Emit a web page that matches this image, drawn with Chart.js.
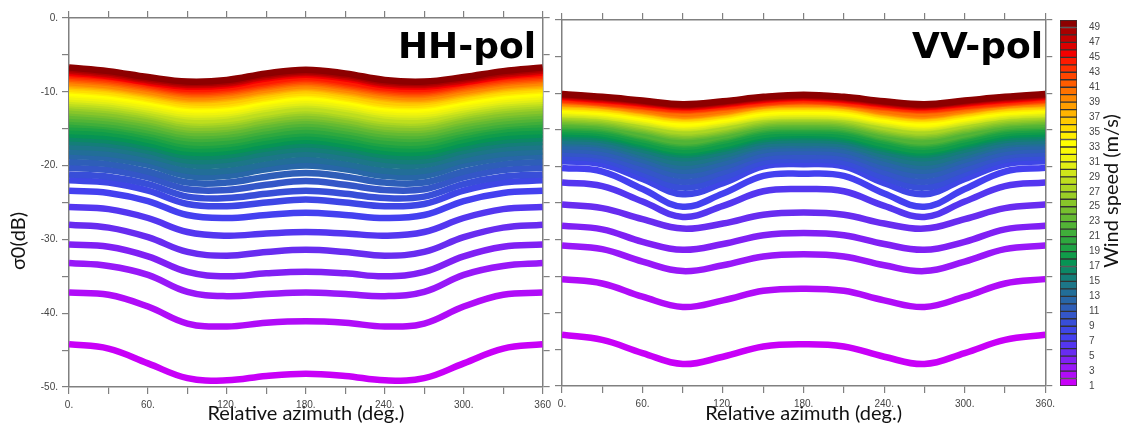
<!DOCTYPE html>
<html>
<head>
<meta charset="utf-8">
<script src="https://cdn.jsdelivr.net/npm/chart.js@4.4.0/dist/chart.umd.min.js"></script>
<style>
  html, body { margin: 0; padding: 0; background: #fff; }
  #wrap { position: relative; width: 1124px; height: 428px; overflow: hidden; background: #fff; }
  canvas { position: absolute; top: 0; }
</style>
</head>
<body>
<div id="wrap">
  <canvas id="hh" width="556" height="428" style="left:0px"></canvas>
  <canvas id="vv" width="510" height="428" style="left:550px"></canvas>
  <canvas id="cbar" width="72" height="428" style="left:1052px"></canvas>
</div>
<script>
// relative azimuth (deg.) where each curve was read
const AZIMUTH = [0, 30, 60, 90, 120, 150, 180, 210, 240, 270, 300, 330, 360];
const WIND_SPEED = [1, 2, 3, 4, 5, 6, 7, 8, 9, 10, 11, 12, 13, 14, 15, 16, 17, 18, 19, 20, 21, 22, 23, 24, 25,
                    26, 27, 28, 29, 30, 31, 32, 33, 34, 35, 36, 37, 38, 39, 40, 41, 42, 43, 44, 45, 46, 47, 48, 49];

// sigma0 (dB), one row per wind speed, HH polarisation
const HH_SIGMA0 = [
  [-44.2,-44.8,-46.8,-48.8,-49.1,-48.5,-48.2,-48.5,-49.1,-48.8,-46.8,-44.8,-44.2],
  [-37.2,-37.5,-39.1,-41.4,-41.8,-41.3,-41.1,-41.3,-41.8,-41.4,-39.1,-37.5,-37.2],
  [-33.2,-33.6,-34.8,-37.1,-37.7,-37.4,-37.2,-37.4,-37.7,-37.1,-34.8,-33.6,-33.2],
  [-30.7,-31.0,-32.3,-34.4,-35.0,-34.6,-34.4,-34.6,-35.0,-34.4,-32.3,-31.0,-30.7],
  [-28.0,-28.4,-29.7,-31.7,-32.2,-31.7,-31.4,-31.7,-32.2,-31.7,-29.7,-28.4,-28.0],
  [-25.6,-25.9,-27.1,-29.0,-29.5,-29.2,-29.0,-29.2,-29.5,-29.0,-27.1,-25.9,-25.6],
  [-23.4,-23.7,-24.8,-26.7,-27.1,-26.7,-26.4,-26.7,-27.1,-26.7,-24.8,-23.7,-23.4],
  [-22.0,-22.3,-23.4,-25.2,-25.5,-25.0,-24.6,-25.0,-25.5,-25.2,-23.4,-22.3,-22.0],
  [-21.2,-21.5,-22.5,-24.2,-24.4,-23.8,-23.4,-23.8,-24.4,-24.2,-22.5,-21.5,-21.2],
  [-20.3,-20.6,-21.6,-23.2,-23.3,-22.6,-22.1,-22.6,-23.3,-23.2,-21.6,-20.6,-20.3],
  [-19.5,-19.8,-20.8,-22.3,-22.3,-21.5,-21.0,-21.5,-22.3,-22.3,-20.8,-19.8,-19.5],
  [-18.7,-19.0,-19.9,-21.4,-21.4,-20.5,-20.0,-20.5,-21.4,-21.4,-19.9,-19.0,-18.7],
  [-18.1,-18.4,-19.3,-20.7,-20.7,-19.8,-19.2,-19.8,-20.7,-20.7,-19.3,-18.4,-18.1],
  [-17.4,-17.7,-18.6,-19.9,-19.9,-19.0,-18.4,-19.0,-19.9,-19.9,-18.6,-17.7,-17.4],
  [-16.8,-17.1,-18.0,-19.3,-19.2,-18.3,-17.7,-18.3,-19.2,-19.3,-18.0,-17.1,-16.8],
  [-16.3,-16.6,-17.5,-18.7,-18.6,-17.7,-17.1,-17.7,-18.6,-18.7,-17.5,-16.6,-16.3],
  [-15.8,-16.1,-17.0,-18.2,-18.1,-17.2,-16.6,-17.2,-18.1,-18.2,-17.0,-16.1,-15.8],
  [-15.3,-15.6,-16.5,-17.7,-17.6,-16.7,-16.1,-16.7,-17.6,-17.7,-16.5,-15.6,-15.3],
  [-14.8,-15.1,-16.0,-17.2,-17.1,-16.2,-15.6,-16.2,-17.1,-17.2,-16.0,-15.1,-14.8],
  [-14.4,-14.7,-15.6,-16.8,-16.7,-15.8,-15.2,-15.8,-16.7,-16.8,-15.6,-14.7,-14.4],
  [-14.0,-14.4,-15.2,-16.3,-16.2,-15.3,-14.7,-15.3,-16.2,-16.3,-15.2,-14.4,-14.0],
  [-13.6,-14.0,-14.8,-15.9,-15.8,-14.9,-14.3,-14.9,-15.8,-15.9,-14.8,-14.0,-13.6],
  [-13.2,-13.6,-14.4,-15.5,-15.4,-14.5,-13.9,-14.5,-15.4,-15.5,-14.4,-13.6,-13.2],
  [-12.8,-13.2,-14.0,-15.1,-15.0,-14.1,-13.5,-14.1,-15.0,-15.1,-14.0,-13.2,-12.8],
  [-12.5,-12.9,-13.7,-14.8,-14.7,-13.8,-13.2,-13.8,-14.7,-14.8,-13.7,-12.9,-12.5],
  [-12.1,-12.5,-13.3,-14.4,-14.3,-13.4,-12.8,-13.4,-14.3,-14.4,-13.3,-12.5,-12.1],
  [-11.8,-12.2,-13.0,-14.1,-14.0,-13.1,-12.5,-13.1,-14.0,-14.1,-13.0,-12.2,-11.8],
  [-11.5,-11.9,-12.7,-13.8,-13.7,-12.8,-12.2,-12.8,-13.7,-13.8,-12.7,-11.9,-11.5],
  [-11.2,-11.6,-12.4,-13.3,-13.2,-12.3,-11.7,-12.3,-13.2,-13.3,-12.4,-11.6,-11.2],
  [-10.9,-11.3,-12.1,-13.0,-12.9,-12.0,-11.4,-12.0,-12.9,-13.0,-12.1,-11.3,-10.9],
  [-10.6,-11.0,-11.8,-12.7,-12.6,-11.7,-11.1,-11.7,-12.6,-12.7,-11.8,-11.0,-10.6],
  [-10.3,-10.7,-11.5,-12.4,-12.3,-11.4,-10.8,-11.4,-12.3,-12.4,-11.5,-10.7,-10.3],
  [-10.1,-10.5,-11.3,-12.2,-12.1,-11.2,-10.6,-11.2,-12.1,-12.2,-11.3,-10.5,-10.1],
  [-9.8,-10.2,-11.0,-11.9,-11.8,-10.9,-10.3,-10.9,-11.8,-11.9,-11.0,-10.2,-9.8],
  [-9.6,-10.0,-10.8,-11.7,-11.6,-10.7,-10.1,-10.7,-11.6,-11.7,-10.8,-10.0,-9.6],
  [-9.3,-9.7,-10.5,-11.4,-11.3,-10.4,-9.8,-10.4,-11.3,-11.4,-10.5,-9.7,-9.3],
  [-9.1,-9.5,-10.3,-11.1,-10.9,-10.1,-9.5,-10.1,-10.9,-11.1,-10.3,-9.5,-9.1],
  [-8.9,-9.3,-10.1,-10.9,-10.7,-9.9,-9.3,-9.9,-10.7,-10.9,-10.1,-9.3,-8.9],
  [-8.7,-9.1,-9.9,-10.7,-10.5,-9.7,-9.1,-9.7,-10.5,-10.7,-9.9,-9.1,-8.7],
  [-8.4,-8.8,-9.6,-10.4,-10.2,-9.4,-8.8,-9.4,-10.2,-10.4,-9.6,-8.8,-8.4],
  [-8.2,-8.6,-9.4,-10.2,-10.0,-9.2,-8.6,-9.2,-10.0,-10.2,-9.4,-8.6,-8.2],
  [-8.0,-8.4,-9.2,-10.0,-9.8,-9.0,-8.4,-9.0,-9.8,-10.0,-9.2,-8.4,-8.0],
  [-7.8,-8.2,-9.0,-9.8,-9.6,-8.8,-8.2,-8.8,-9.6,-9.8,-9.0,-8.2,-7.8],
  [-7.6,-8.0,-8.8,-9.6,-9.4,-8.6,-8.0,-8.6,-9.4,-9.6,-8.8,-8.0,-7.6],
  [-7.4,-7.9,-8.7,-9.3,-9.1,-8.2,-7.7,-8.2,-9.1,-9.3,-8.7,-7.9,-7.4],
  [-7.2,-7.7,-8.5,-9.1,-8.9,-8.0,-7.5,-8.0,-8.9,-9.1,-8.5,-7.7,-7.2],
  [-7.1,-7.6,-8.4,-9.0,-8.8,-7.9,-7.4,-7.9,-8.8,-9.0,-8.4,-7.6,-7.1],
  [-6.9,-7.4,-8.2,-8.8,-8.6,-7.7,-7.2,-7.7,-8.6,-8.8,-8.2,-7.4,-6.9],
  [-6.7,-7.2,-8.0,-8.6,-8.4,-7.5,-7.0,-7.5,-8.4,-8.6,-8.0,-7.2,-6.7]
];

// sigma0 (dB), one row per wind speed, VV polarisation
const VV_SIGMA0 = [
  [-43.0,-43.7,-45.5,-47.0,-46.0,-44.6,-44.3,-44.6,-46.0,-47.0,-45.5,-43.7,-43.0],
  [-35.4,-36.0,-37.8,-39.2,-38.3,-37.0,-36.7,-37.0,-38.3,-39.2,-37.8,-36.0,-35.4],
  [-30.8,-31.3,-33.0,-34.3,-33.5,-32.3,-32.0,-32.3,-33.5,-34.3,-33.0,-31.3,-30.8],
  [-28.1,-28.6,-30.3,-31.4,-30.6,-29.4,-29.1,-29.4,-30.6,-31.4,-30.3,-28.6,-28.1],
  [-25.2,-25.7,-27.2,-28.5,-27.8,-26.6,-26.3,-26.6,-27.8,-28.5,-27.2,-25.7,-25.2],
  [-22.2,-22.7,-24.8,-26.9,-25.4,-23.4,-23.1,-23.4,-25.4,-26.9,-24.8,-22.7,-22.2],
  [-20.2,-20.7,-23.1,-25.5,-23.7,-21.3,-21.0,-21.3,-23.7,-25.5,-23.1,-20.7,-20.2],
  [-19.3,-19.7,-21.7,-23.8,-22.3,-20.0,-19.7,-20.0,-22.3,-23.8,-21.7,-19.7,-19.3],
  [-18.7,-19.1,-21.0,-22.9,-21.5,-19.4,-19.1,-19.4,-21.5,-22.9,-21.0,-19.1,-18.7],
  [-18.2,-18.6,-20.4,-22.1,-20.8,-18.8,-18.6,-18.8,-20.8,-22.1,-20.4,-18.6,-18.2],
  [-17.7,-18.1,-19.7,-21.3,-20.1,-18.3,-18.0,-18.3,-20.1,-21.3,-19.7,-18.1,-17.7],
  [-17.2,-17.6,-19.1,-20.6,-19.5,-17.8,-17.5,-17.8,-19.5,-20.6,-19.1,-17.6,-17.2],
  [-16.8,-17.1,-18.6,-20.0,-18.9,-17.3,-17.1,-17.3,-18.9,-20.0,-18.6,-17.1,-16.8],
  [-16.5,-16.8,-18.2,-19.5,-18.5,-17.0,-16.8,-17.0,-18.5,-19.5,-18.2,-16.8,-16.5],
  [-16.1,-16.4,-17.7,-18.9,-18.0,-16.6,-16.4,-16.6,-18.0,-18.9,-17.7,-16.4,-16.1],
  [-15.8,-16.1,-17.3,-18.4,-17.6,-16.3,-16.0,-16.3,-17.6,-18.4,-17.3,-16.1,-15.8],
  [-15.5,-15.8,-17.0,-18.1,-17.3,-16.0,-15.7,-16.0,-17.3,-18.1,-17.0,-15.8,-15.5],
  [-15.2,-15.5,-16.7,-17.8,-17.0,-15.7,-15.4,-15.7,-17.0,-17.8,-16.7,-15.5,-15.2],
  [-14.9,-15.2,-16.3,-17.3,-16.5,-15.3,-15.1,-15.3,-16.5,-17.3,-16.3,-15.2,-14.9],
  [-14.6,-14.9,-16.0,-17.0,-16.2,-15.0,-14.8,-15.0,-16.2,-17.0,-16.0,-14.9,-14.6],
  [-14.4,-14.7,-15.8,-16.8,-16.0,-14.8,-14.6,-14.8,-16.0,-16.8,-15.8,-14.7,-14.4],
  [-14.2,-14.5,-15.6,-16.6,-15.8,-14.6,-14.4,-14.6,-15.8,-16.6,-15.6,-14.5,-14.2],
  [-13.9,-14.2,-15.1,-16.0,-15.4,-14.3,-14.1,-14.3,-15.4,-16.0,-15.1,-14.2,-13.9],
  [-13.7,-14.0,-14.9,-15.8,-15.2,-14.1,-13.9,-14.1,-15.2,-15.8,-14.9,-14.0,-13.7],
  [-13.5,-13.8,-14.7,-15.6,-15.0,-13.9,-13.7,-13.9,-15.0,-15.6,-14.7,-13.8,-13.5],
  [-13.3,-13.6,-14.5,-15.4,-14.8,-13.7,-13.5,-13.7,-14.8,-15.4,-14.5,-13.6,-13.3],
  [-13.1,-13.4,-14.3,-15.2,-14.6,-13.5,-13.3,-13.5,-14.6,-15.2,-14.3,-13.4,-13.1],
  [-12.9,-13.2,-14.0,-14.8,-14.2,-13.3,-13.1,-13.3,-14.2,-14.8,-14.0,-13.2,-12.9],
  [-12.8,-13.1,-13.9,-14.7,-14.1,-13.2,-13.0,-13.2,-14.1,-14.7,-13.9,-13.1,-12.8],
  [-12.6,-12.9,-13.7,-14.5,-13.9,-13.0,-12.8,-13.0,-13.9,-14.5,-13.7,-12.9,-12.6],
  [-12.4,-12.7,-13.5,-14.3,-13.7,-12.8,-12.6,-12.8,-13.7,-14.3,-13.5,-12.7,-12.4],
  [-12.3,-12.6,-13.4,-14.2,-13.6,-12.7,-12.5,-12.7,-13.6,-14.2,-13.4,-12.6,-12.3],
  [-12.1,-12.4,-13.2,-14.0,-13.4,-12.5,-12.3,-12.5,-13.4,-14.0,-13.2,-12.4,-12.1],
  [-12.0,-12.3,-13.0,-13.7,-13.2,-12.3,-12.1,-12.3,-13.2,-13.7,-13.0,-12.3,-12.0],
  [-11.8,-12.1,-12.8,-13.5,-13.0,-12.1,-11.9,-12.1,-13.0,-13.5,-12.8,-12.1,-11.8],
  [-11.7,-12.0,-12.7,-13.4,-12.9,-12.0,-11.8,-12.0,-12.9,-13.4,-12.7,-12.0,-11.7],
  [-11.5,-11.8,-12.5,-13.2,-12.7,-11.8,-11.6,-11.8,-12.7,-13.2,-12.5,-11.8,-11.5],
  [-11.4,-11.7,-12.4,-13.1,-12.6,-11.7,-11.5,-11.7,-12.6,-13.1,-12.4,-11.7,-11.4],
  [-11.3,-11.6,-12.3,-13.0,-12.5,-11.6,-11.4,-11.6,-12.5,-13.0,-12.3,-11.6,-11.3],
  [-11.1,-11.4,-12.1,-12.8,-12.3,-11.4,-11.2,-11.4,-12.3,-12.8,-12.1,-11.4,-11.1],
  [-11.0,-11.4,-11.9,-12.4,-12.0,-11.4,-11.1,-11.4,-12.0,-12.4,-11.9,-11.4,-11.0],
  [-10.9,-11.3,-11.8,-12.3,-11.9,-11.3,-11.0,-11.3,-11.9,-12.3,-11.8,-11.3,-10.9],
  [-10.8,-11.2,-11.7,-12.2,-11.8,-11.2,-10.9,-11.2,-11.8,-12.2,-11.7,-11.2,-10.8],
  [-10.6,-11.0,-11.5,-12.0,-11.6,-11.0,-10.7,-11.0,-11.6,-12.0,-11.5,-11.0,-10.6],
  [-10.5,-10.9,-11.4,-11.9,-11.5,-10.9,-10.6,-10.9,-11.5,-11.9,-11.4,-10.9,-10.5],
  [-10.4,-10.8,-11.3,-11.8,-11.4,-10.8,-10.5,-10.8,-11.4,-11.8,-11.3,-10.8,-10.4],
  [-10.3,-10.7,-11.2,-11.7,-11.3,-10.7,-10.4,-10.7,-11.3,-11.7,-11.2,-10.7,-10.3],
  [-10.2,-10.6,-11.1,-11.6,-11.2,-10.6,-10.3,-10.6,-11.2,-11.6,-11.1,-10.6,-10.2],
  [-10.1,-10.5,-11.0,-11.5,-11.1,-10.5,-10.2,-10.5,-11.1,-11.5,-11.0,-10.5,-10.1]
];

const X_TICK_LABELS_HH = ['0.', '60.', '120.', '180.', '240.', '300.', '360'];
const X_TICK_LABELS_VV = ['0.', '60.', '120.', '180.', '240.', '300.', '360.'];
const Y_TICK_LABELS = ['-50.', '-40.', '-30.', '-20.', '-10.', '0.'];
const CBAR_TICK_LABELS = ['1', '3', '5', '7', '9', '11', '13', '15', '17', '19', '21', '23', '25',
                          '27', '29', '31', '33', '35', '37', '39', '41', '43', '45', '47', '49'];

// one colour per wind speed, magenta (1 m/s) to dark red (49 m/s)
const COLORS = [
  '#c800f8', '#b00cf8', '#9818f8', '#8020f4', '#682cf0', '#5436f0', '#4440f0', '#3e46e6', '#384ed8', '#3456c8',
  '#2e5eb8', '#2866a8', '#226e98', '#1c7688', '#147e78', '#0c8866', '#069454', '#109c4a', '#1ea244', '#2ea83e',
  '#40ae3a', '#52b436', '#64ba32', '#76c02e', '#88c62a', '#9ace26', '#acd622', '#bede1e', '#d0e61a', '#e2ee14',
  '#f0f40c', '#fafa04', '#ffff00', '#ffee00', '#ffdc00', '#ffca00', '#ffb400', '#ff9e00', '#ff8800', '#ff7200',
  '#ff5c00', '#ff4600', '#ff3000', '#ff1a00', '#f40000', '#dc0000', '#c40000', '#a80000', '#8c0000'
];

const AXIS_COLOR = '#808080';
const TICK_FONT = { family: '"Liberation Sans", Arial, sans-serif', size: 10 };
const TITLE_FONT = 'Lato, "Noto Sans", sans-serif';

// free text drawn onto a chart (panel names, rotated axis titles)
const textMarks = {
  id: 'textMarks',
  afterDraw(chart, args, opts) {
    const ctx = chart.ctx;
    (opts.items || []).forEach(t => {
      ctx.save();
      ctx.translate(t.x, t.y);
      ctx.rotate(t.rotate || 0);
      ctx.font = t.font;
      ctx.fillStyle = t.color || '#000';
      ctx.textAlign = t.align || 'center';
      ctx.textBaseline = t.baseline || 'middle';
      ctx.fillText(t.text, 0, 0);
      ctx.restore();
    });
  }
};

function frameAxis(extra) {
  return Object.assign({
    type: 'linear',
    z: 1,
    grid: { drawOnChartArea: false, drawTicks: true, tickLength: 7, color: AXIS_COLOR, tickColor: AXIS_COLOR, lineWidth: 1.2 },
    border: { display: true, color: AXIS_COLOR, width: 1.5 }
  }, extra);
}

function makePanel(id, rows, xLabels, box, showYLabels, marks) {
  const datasets = rows.map((row, k) => ({
    label: WIND_SPEED[k] + ' m/s',
    data: AZIMUTH.map((a, i) => ({ x: a, y: row[i] })),
    borderColor: COLORS[k],
    backgroundColor: COLORS[k],
    borderWidth: 6.5,
    pointRadius: 0,
    fill: false,
    tension: 0.4,
    order: WIND_SPEED.length - k
  }));

  new Chart(document.getElementById(id), {
    type: 'line',
    data: { datasets },
    plugins: [textMarks],
    options: {
      responsive: false,
      animation: false,
      events: [],
      layout: { padding: 0 },
      plugins: {
        legend: { display: false },
        tooltip: { enabled: false },
        textMarks: { items: marks }
      },
      scales: {
        x: frameAxis({
          position: 'bottom', min: 0, max: 360,
          ticks: {
            stepSize: 30, autoSkip: false, maxRotation: 0, padding: 5,
            font: TICK_FONT, color: '#444',
            callback: v => (v % 60 === 0 ? xLabels[v / 60] : '')
          },
          title: {
            display: true, text: 'Relative azimuth (deg.)', color: '#111',
            font: { family: TITLE_FONT, size: 20 }, padding: { top: 0, bottom: 2 }
          },
          afterFit: s => { s.height = box.bottom; }
        }),
        x2: frameAxis({
          position: 'top', min: 0, max: 360,
          ticks: { display: false, stepSize: 30 },
          afterFit: s => { s.height = box.top; }
        }),
        y: frameAxis({
          position: 'left', min: -50, max: 0,
          ticks: {
            display: showYLabels, stepSize: 5, padding: 4,
            font: TICK_FONT, color: '#444',
            callback: v => (v % 10 === 0 ? Y_TICK_LABELS[(v + 50) / 10] : '')
          },
          afterFit: s => { s.width = box.left; }
        }),
        y2: frameAxis({
          position: 'right', min: -50, max: 0,
          ticks: { display: false, stepSize: 5 },
          afterFit: s => { s.width = box.right; }
        })
      }
    }
  });
}

makePanel('hh', HH_SIGMA0, X_TICK_LABELS_HH, { left: 69, right: 12, top: 18, bottom: 41 }, true, [
  { text: 'HH-pol', x: 536, y: 58, align: 'right', baseline: 'alphabetic', font: 'bold 36px "DejaVu Sans"', color: '#000' },
  { text: 'σ0(dB)', x: 19, y: 241, rotate: -Math.PI / 2, font: '20px ' + TITLE_FONT, color: '#111' }
]);

makePanel('vv', VV_SIGMA0, X_TICK_LABELS_VV, { left: 12, right: 12, top: 20, bottom: 42 }, false, [
  { text: 'VV-pol', x: 493, y: 58, align: 'right', baseline: 'alphabetic', font: 'bold 36px "DejaVu Sans"', color: '#000' }
]);

// colour bar: one stacked segment per wind speed
new Chart(document.getElementById('cbar'), {
  type: 'bar',
  data: {
    labels: [''],
    datasets: WIND_SPEED.map((ws, k) => ({
      label: ws + ' m/s',
      data: [1],
      backgroundColor: COLORS[k],
      borderColor: '#333',
      borderWidth: 1,
      borderSkipped: false,
      barPercentage: 1,
      categoryPercentage: 1
    }))
  },
  plugins: [textMarks],
  options: {
    responsive: false,
    animation: false,
    events: [],
    layout: { padding: { left: 8, top: 20, bottom: 42, right: 0 } },
    plugins: {
      legend: { display: false },
      tooltip: { enabled: false },
      textMarks: {
        items: [{ text: 'Wind speed (m/s)', x: 60, y: 191, rotate: -Math.PI / 2, font: '20px ' + TITLE_FONT, color: '#111' }]
      }
    },
    scales: {
      x: { stacked: true, display: false },
      y: {
        stacked: true, position: 'right', min: 0, max: WIND_SPEED.length,
        grid: { display: false },
        border: { display: false },
        ticks: {
          stepSize: 2, includeBounds: false, padding: 4,
          font: TICK_FONT, color: '#444',
          callback: v => CBAR_TICK_LABELS[v / 2]
        },
        afterFit: s => { s.width = 47; }
      }
    }
  }
});
</script>
</body>
</html>
